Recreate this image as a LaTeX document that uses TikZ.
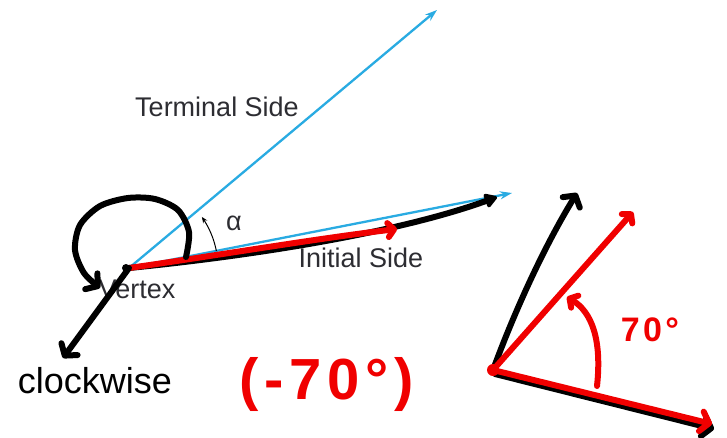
\documentclass[tikz,border=0pt]{standalone}
\usepackage{fontspec}
\setmainfont{Liberation Sans}
\newfontfamily\penfont[LetterSpace=10]{Liberation Sans}
\usetikzlibrary{arrows.meta}
\definecolor{skyb}{RGB}{41,171,226}
\definecolor{lbl}{RGB}{45,45,50}
\definecolor{pen}{RGB}{240,0,0}
\begin{document}
\begin{tikzpicture}[x=1pt,y=-1pt,
  blueside/.style={draw=skyb,line width=2.3pt,-{Stealth[length=12pt,width=8pt]}},
  blackpen/.style={draw=black,line width=6pt,line cap=round,line join=round},
  redpen/.style={draw=pen,line width=6pt,line cap=round,line join=round},
  barb/.style={-{Straight Barb[length=8pt,width=20pt,line cap=round,line join=round]}},
  smallbarb/.style={-{Straight Barb[length=6pt,width=14pt,line cap=round,line join=round]}},
  lbltext/.style={text=lbl,font=\fontsize{27}{30}\selectfont,inner sep=0pt},
  pentext/.style={text=pen,inner sep=0pt}
]
\useasboundingbox (0,0) rectangle (727,437);
\fill[white] (0,0) rectangle (727,437);

% left figure
\coordinate (V) at (129,268);
\coordinate (T) at (437,10);
\coordinate (I) at (512,193);
\coordinate (BI) at (497,197);
\coordinate (RI) at (397,229);
\coordinate (DL) at (63,358);

\node[lbltext] (term) at (217,107) {Terminal Side};
\node[lbltext] (init) at (361,258) {Initial Side};
\node[lbltext] (vert) at (137,289) {Vertex};
\node[lbltext] (alpha) at (234,223) {α};
\node[inner sep=0pt,font=\fontsize{36}{40}\selectfont] (cw) at (95,381) {clockwise};

\draw[blueside] (V) -- (T);
\draw[blueside] (V) -- (I);
\draw[line width=1pt,-{Stealth[length=6pt,width=5pt]}]
  plot[domain=-11:-35,samples=20] ({129+89*cos(\x)},{268+89*sin(\x)});

\draw[blackpen,-{Triangle[length=14pt,width=16pt,round]}]
  (V) .. controls (260,255) and (400,232) .. (BI);
\draw[redpen,smallbarb] (V) .. controls (220,255) and (320,238) .. (RI);
\draw[blackpen,barb] plot[smooth] coordinates
  {(186,257) (189,232) (178,210) (155,199) (128,198) (100,206) (80,225) (75,250) (84,273) (100,288)};
\draw[blackpen,barb] (V) -- (DL);
\fill (126,268) circle (4);

\node[pentext,font=\penfont\bfseries\fontsize{58}{62}\selectfont] (neg) at (327,384) {(-70°)};

% right figure
\coordinate (O) at (493,370);
\coordinate (U) at (577,193);
\coordinate (RU) at (633,212);
\coordinate (RL) at (712,424);
\coordinate (BL) at (714,429);
\coordinate (AS) at (597,386);
\coordinate (AE) at (567,297);

\draw[blackpen,barb] (495,374) -- (BL);
\draw[blackpen,barb] (O) .. controls (515,310) and (545,245) .. (U);
\draw[redpen,smallbarb] (O) -- (RU);
\draw[redpen,barb] (O) -- (RL);
\draw[redpen,smallbarb] (AS) .. controls (602,340) and (592,312) .. (AE);
\fill[pen] (O) circle (6);
\node[pentext,font=\penfont\bfseries\fontsize{34}{38}\selectfont] (seventy) at (650,330) {70°};
\end{tikzpicture}
\end{document}
